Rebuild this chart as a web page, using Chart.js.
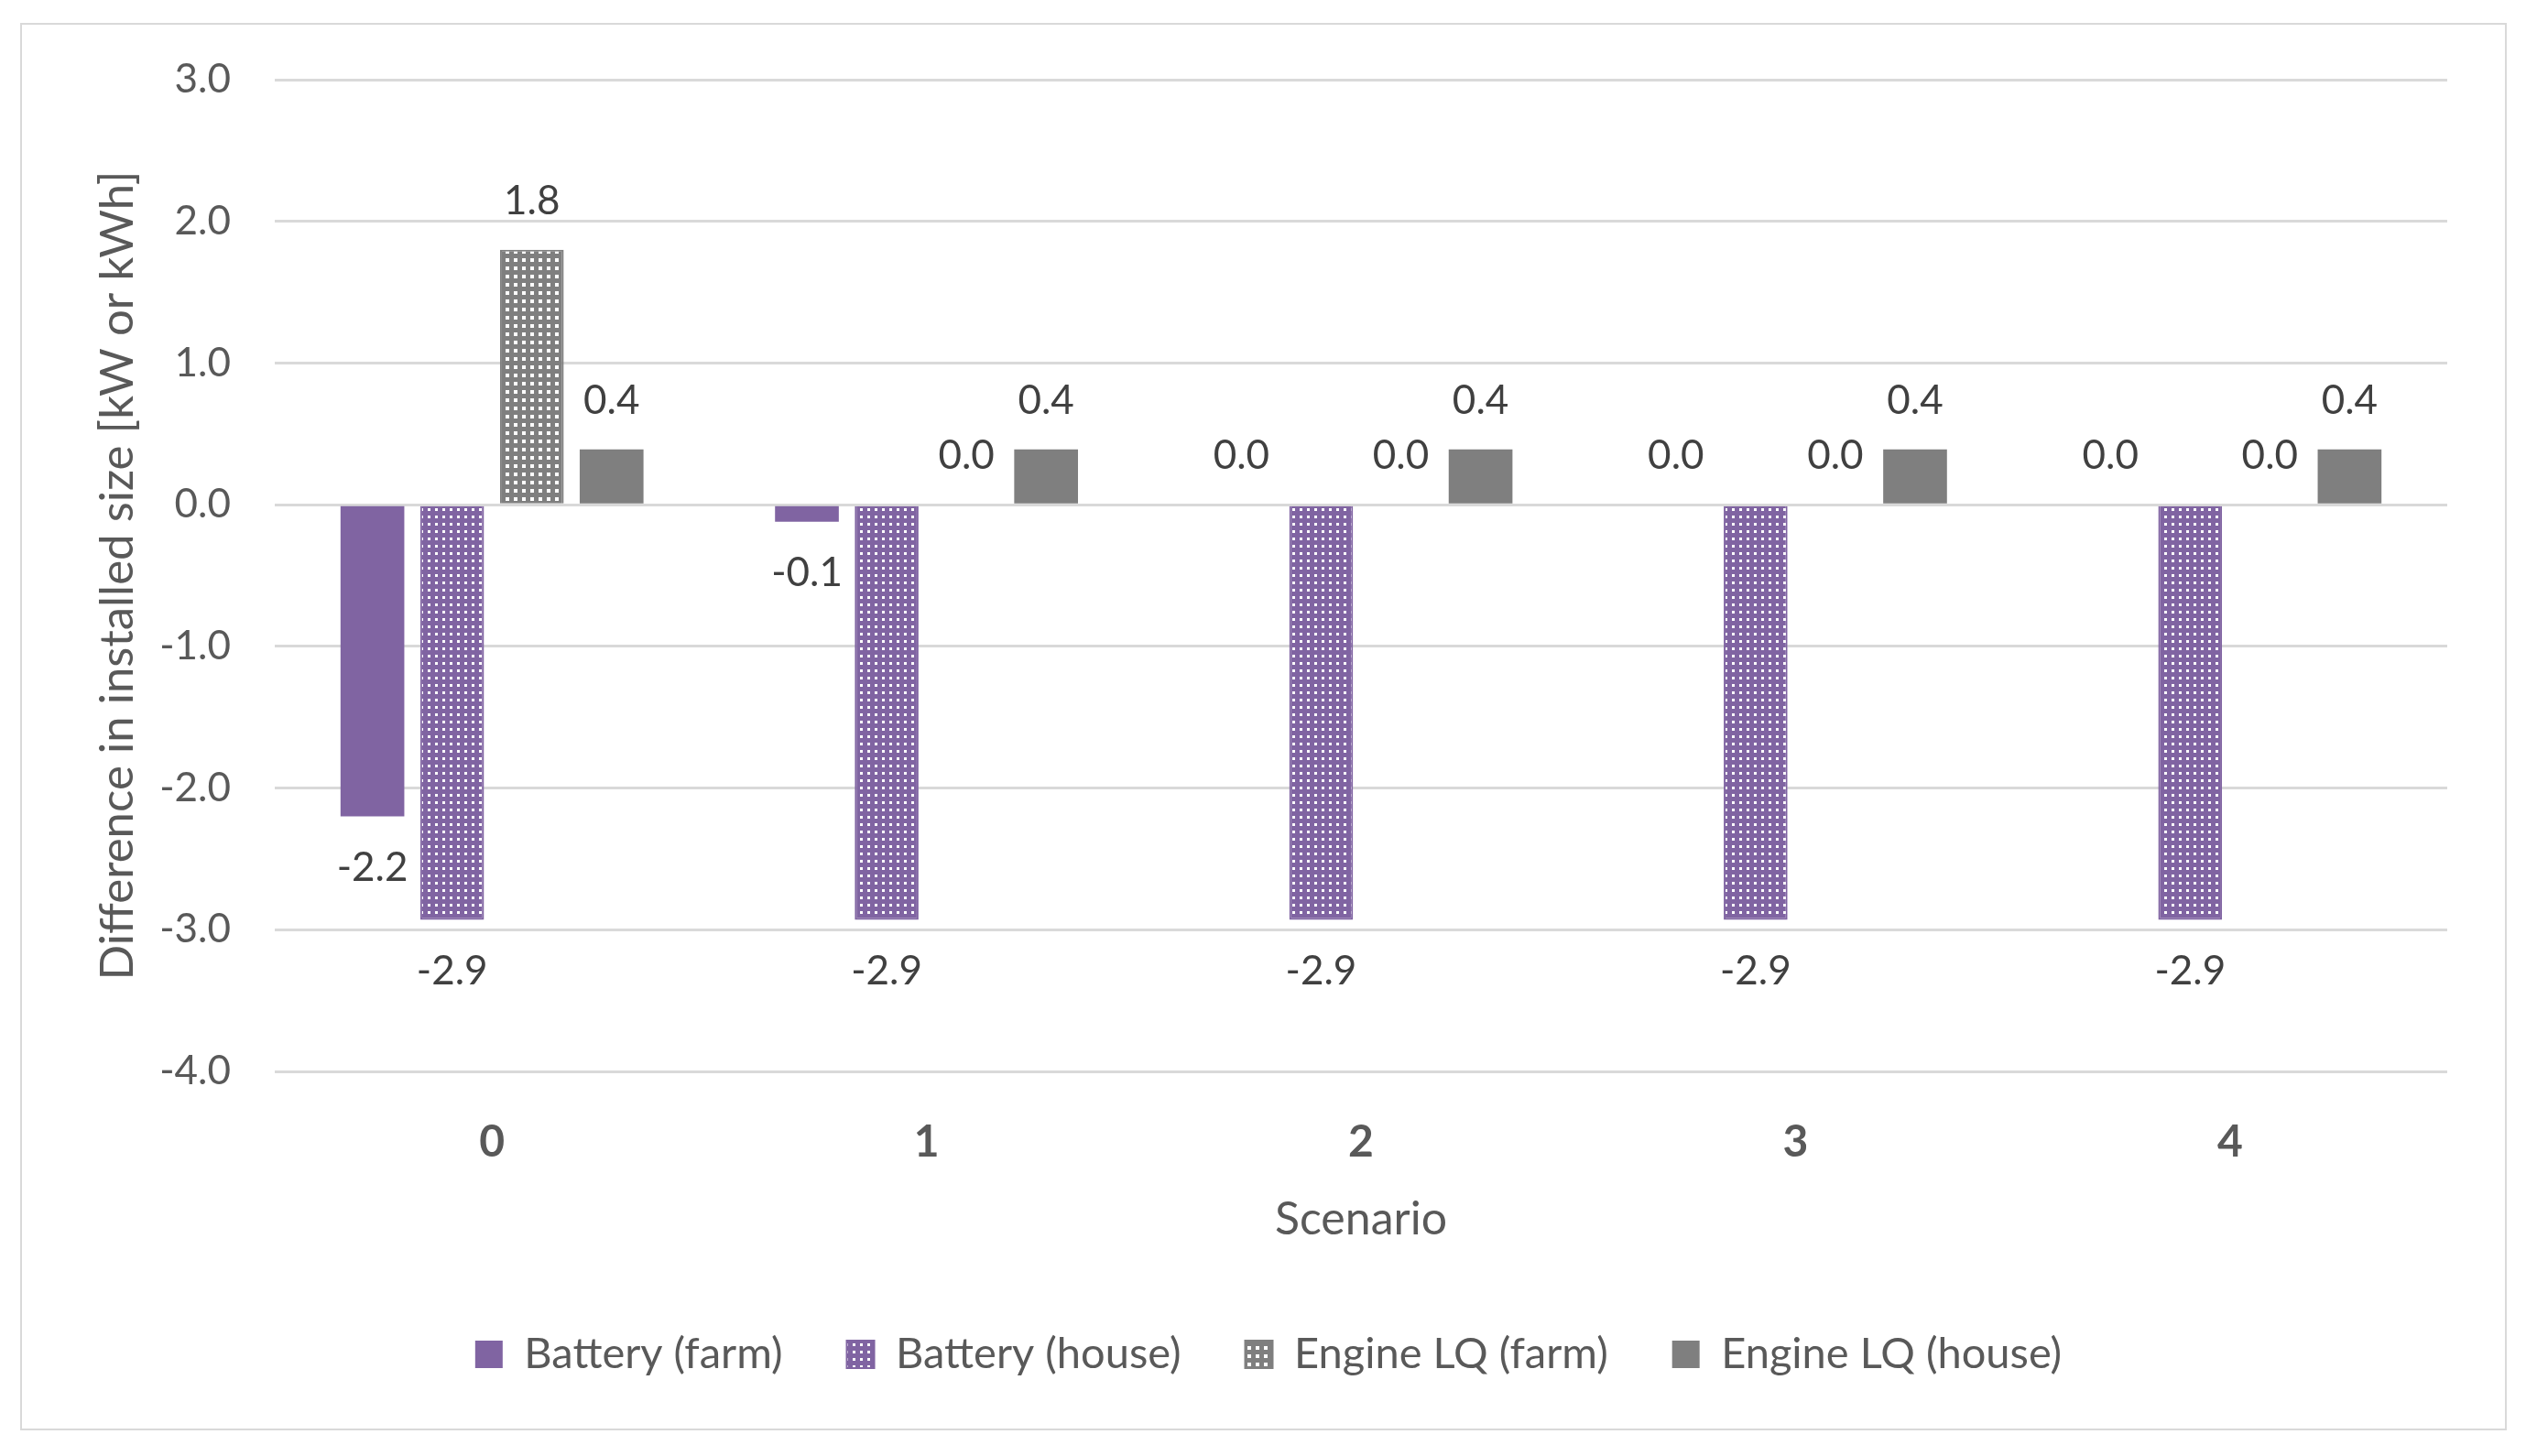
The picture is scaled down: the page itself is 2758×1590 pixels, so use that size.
<!DOCTYPE html>
<html>
<head>
<meta charset="utf-8">
<script src="https://cdn.jsdelivr.net/npm/chart.js@4.4.1/dist/chart.umd.min.js"></script>
<style>
  html, body { margin: 0; padding: 0; background: #ffffff; }
  #wrap { position: relative; width: 2758px; height: 1590px; }
  #frame { position: absolute; left: 22px; top: 25px; width: 2711px; height: 1533px; border: 2px solid #d9d9d9; pointer-events: none; }
  canvas { position: absolute; left: 0; top: 0; }
</style>
</head>
<body>
<div id="wrap">
  <canvas id="c" width="2758" height="1590"></canvas>
  <div id="frame"></div>
</div>
<script>
const categories = ['0', '1', '2', '3', '4'];
const seriesNames = ['Battery (farm)', 'Battery (house)', 'Engine LQ (farm)', 'Engine LQ (house)'];
const batteryFarm = [-2.2, -0.12, 0.0, 0.0, 0.0];
const batteryHouse = [-2.93, -2.93, -2.93, -2.93, -2.93];
const engineFarm = [1.8, 0.0, 0.0, 0.0, 0.0];
const engineHouse = [0.39, 0.39, 0.39, 0.39, 0.39];
const yTicks = [3, 2, 1, 0, -1, -2, -3, -4];

const PURPLE = '#8064a2';
const GRAY = '#7f7f7f';
const FONT = 'Lato, "Open Sans", sans-serif';

function makePattern(bg, tile, sq, off) {
  const c = document.createElement('canvas');
  c.width = tile; c.height = tile;
  const g = c.getContext('2d');
  g.fillStyle = bg; g.fillRect(0, 0, tile, tile);
  g.fillStyle = '#ffffff';
  g.fillRect(off, off, sq, sq);
  return document.getElementById('c').getContext('2d').createPattern(c, 'repeat');
}
const purpleDots = makePattern(PURPLE, 8, 3, 3);
const grayGrid = makePattern(GRAY, 9, 4, 3);

const bw = ctx => (ctx.raw === 0 ? 0 : 2);

const valueLabels = {
  id: 'valueLabels',
  afterDatasetsDraw(chart) {
    const ctx = chart.ctx;
    ctx.save();
    ctx.font = '44px ' + FONT;
    ctx.fillStyle = '#404040';
    ctx.textAlign = 'center';
    ctx.textBaseline = 'middle';
    chart.data.datasets.forEach((ds, di) => {
      const meta = chart.getDatasetMeta(di);
      meta.data.forEach((bar, i) => {
        const v = ds.data[i];
        const y = v >= 0 ? bar.y - 53 : bar.y + 56;
        ctx.fillText(v.toFixed(1), bar.x, y);
      });
    });
    ctx.restore();
  }
};

new Chart(document.getElementById('c'), {
  type: 'bar',
  data: {
    labels: categories,
    datasets: [
      { label: seriesNames[0], data: batteryFarm, backgroundColor: PURPLE, borderColor: PURPLE, borderWidth: 0 },
      { label: seriesNames[1], data: batteryHouse, backgroundColor: purpleDots, borderColor: PURPLE, borderWidth: bw },
      { label: seriesNames[2], data: engineFarm, backgroundColor: grayGrid, borderColor: GRAY, borderWidth: bw },
      { label: seriesNames[3], data: engineHouse, backgroundColor: GRAY, borderColor: GRAY, borderWidth: 0 }
    ]
  },
  options: {
    responsive: false,
    animation: false,
    devicePixelRatio: 1,
    categoryPercentage: 0.734,
    barPercentage: 0.8,
    layout: { padding: { left: 98, right: 86, top: 87, bottom: 77.5 } },
    plugins: {
      tooltip: { enabled: false },
      legend: {
        position: 'bottom',
        labels: {
          boxWidth: 30, boxHeight: 30,
          padding: 70,
          color: '#595959',
          font: { family: FONT, size: 47 }
        }
      }
    },
    scales: {
      x: {
        grid: { display: false },
        border: { display: false },
        ticks: { color: '#595959', padding: 41, font: { family: FONT, size: 48, weight: 'bold' } },
        title: { display: true, text: 'Scenario', color: '#595959', padding: { top: 0, bottom: 23.5 }, font: { family: FONT, size: 50 } },
        afterFit(s) { s.height = 215.5; }
      },
      y: {
        min: -4, max: 3,
        afterBuildTicks(s) { s.ticks = yTicks.map(v => ({ value: v })); },
        grid: { color: '#d9d9d9', lineWidth: 3, drawTicks: false },
        border: { display: false },
        ticks: { color: '#595959', padding: 48, font: { family: FONT, size: 44 }, callback: v => v.toFixed(1) },
        title: { display: true, text: 'Difference in installed size [kW or kWh]', color: '#595959', padding: { top: 0, bottom: 0 }, font: { family: FONT, size: 51 } },
        afterFit(s) { s.width = 202; }
      }
    }
  },
  plugins: [valueLabels]
});
</script>
</body>
</html>
